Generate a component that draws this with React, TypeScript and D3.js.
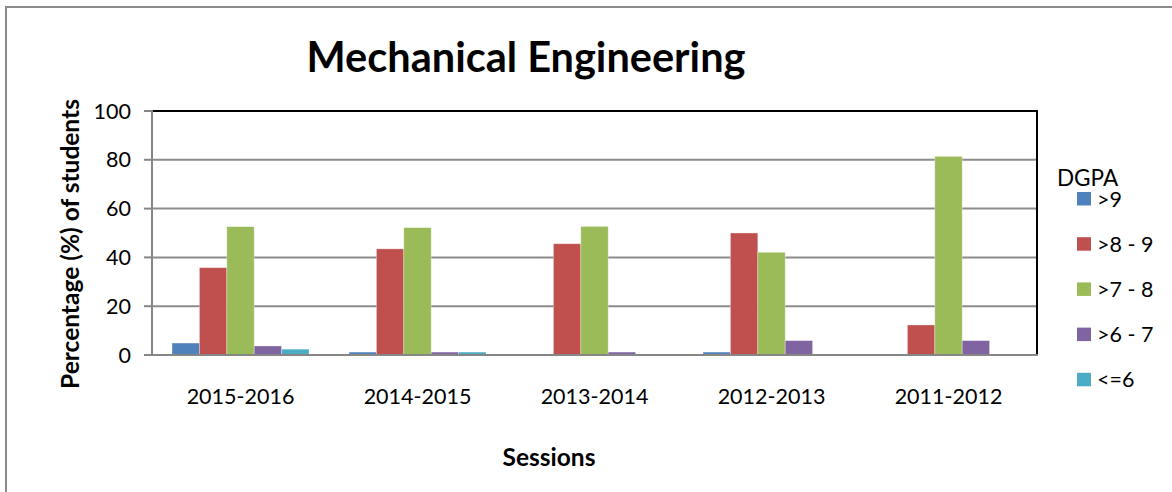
import React from "react";
import * as d3 from "d3";

const sessions = ["2015-2016", "2014-2015", "2013-2014", "2012-2013", "2011-2012"];
const seriesNames = [">9", ">8 - 9", ">7 - 8", ">6 - 7", "<=6"];
const gt9 = [4.9, 1.2, 0, 1.2, 0];
const gt8to9 = [35.8, 43.5, 45.6, 50.0, 12.3];
const gt7to8 = [52.6, 52.2, 52.7, 42.1, 81.4];
const gt6to7 = [3.7, 1.2, 1.2, 5.9, 5.9];
const le6 = [2.4, 1.2, 0, 0, 0];
const yTicks = [0, 20, 40, 60, 80, 100];
const colors = ["#4F81BD", "#C0504D", "#9BBB59", "#8064A2", "#4BACC6"];

const series = [gt9, gt8to9, gt7to8, gt6to7, le6];

const W = 1172;
const H = 492;
const left = 152;
const right = 1037;
const top = 111;
const bottom = 355;
const FONT = "Lato, 'Open Sans', sans-serif";

export default function App() {
  const x = d3.scaleBand<string>().domain(sessions).range([left, right]).paddingInner(0).paddingOuter(0);
  const inner = d3
    .scaleBand<string>()
    .domain(seriesNames)
    .range([0, x.bandwidth()])
    .paddingOuter(0.73)
    .paddingInner(0);
  const y = d3.scaleLinear().domain([0, 100]).range([bottom, top]);

  return (
    <svg width={W} height={H} style={{ position: "absolute", left: 0, top: 0, background: "#fff" }}>
      <rect x={0} y={0} width={W} height={H} fill="#fff" />
      {/* outer frame */}
      <path d={`M6,${H} L6,7 L${W},7`} fill="none" stroke="#8a8a8a" strokeWidth={2} />
      <text x={526} y={72} textAnchor="middle" fontFamily={FONT} fontWeight="bold" fontSize={41.5} fill="#000">
        Mechanical Engineering
      </text>
      {/* gridlines */}
      {yTicks.filter((t) => t > 0 && t < 100).map((t) => (
        <line key={t} x1={left} x2={right} y1={y(t)} y2={y(t)} stroke="#8c8c8c" strokeWidth={2} />
      ))}
      {/* top and right border */}
      <path d={`M${left},${y(100)} L${right},${y(100)} L${right},${bottom}`} fill="none" stroke="#000" strokeWidth={2} />
      {/* bars */}
      {sessions.map((s, i) => (
        <g key={s}>
          {series.map((vals, j) =>
            vals[i] > 0 ? (
              <rect
                key={j}
                x={(x(s) as number) + (inner(seriesNames[j]) as number)}
                y={y(vals[i])}
                width={inner.bandwidth()}
                height={bottom - y(vals[i])}
                fill={colors[j]}
                stroke="#ffffff"
                strokeOpacity={0.4}
                strokeWidth={0.8}
              />
            ) : null
          )}
        </g>
      ))}
      {/* axes */}
      <line x1={left} x2={left} y1={top - 1} y2={bottom + 1} stroke="#868686" strokeWidth={2} />
      <line x1={left - 8} x2={right + 1} y1={bottom} y2={bottom} stroke="#868686" strokeWidth={2} />
      {yTicks.map((t) => (
        <g key={t}>
          <line x1={left - 8} x2={left} y1={y(t)} y2={y(t)} stroke="#868686" strokeWidth={2} />
          <text x={131} y={y(t)} dy="0.35em" textAnchor="end" fontFamily={FONT} fontSize={21.5} fill="#000">
            {t}
          </text>
        </g>
      ))}
      {sessions.map((s) => (
        <text
          key={s}
          x={(x(s) as number) + x.bandwidth() / 2}
          y={396}
          dy="0.35em"
          textAnchor="middle"
          fontFamily={FONT}
          fontSize={21.5}
          fill="#000"
        >
          {s}
        </text>
      ))}
      <text x={549} y={457} dy="0.35em" textAnchor="middle" fontFamily={FONT} fontWeight="bold" fontSize={24.5} fill="#000">
        Sessions
      </text>
      <text
        transform={`translate(70,244) rotate(-90)`}
        dy="0.35em"
        textAnchor="middle"
        fontFamily={FONT}
        fontWeight="bold"
        fontSize={24.5}
        fill="#000"
      >
        Percentage (%) of students
      </text>
      {/* legend */}
      <text x={1057} y={186} fontFamily={FONT} fontSize={22.5} fill="#000">
        DGPA
      </text>
      {seriesNames.map((n, j) => (
        <g key={n} transform={`translate(1077,${192 + j * 45.2})`}>
          <rect x={0} y={0} width={14} height={13.5} fill={colors[j]} />
          <text x={20} y={7} dy="0.35em" fontFamily={FONT} fontSize={21.5} fill="#000">
            {n}
          </text>
        </g>
      ))}
    </svg>
  );
}
